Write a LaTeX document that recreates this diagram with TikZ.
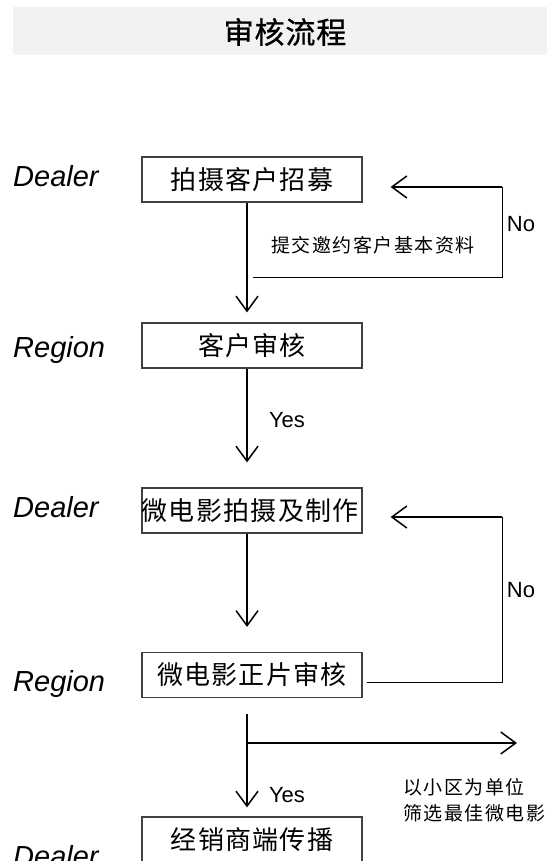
\documentclass[tikz,border=0pt]{standalone}
\usepackage{fontspec}
\setmainfont{Liberation Sans}
\newfontfamily\cjkbox[LetterSpace=5]{Noto Sans CJK SC}
\newfontfamily\cjksmall[LetterSpace=8]{Noto Sans CJK SC}
\newfontfamily\cjktitle[LetterSpace=3,FakeBold=0.8]{Noto Sans CJK SC}
\usetikzlibrary{arrows.meta}
\begin{document}
\begin{tikzpicture}[x=1pt,y=-1pt,
 box/.style={draw=black!75, line width=1.2pt, minimum width=220pt, minimum height=45pt, inner sep=0pt, font=\cjkbox\fontsize{26}{30}\selectfont},
 role/.style={font=\itshape\fontsize{29}{34}\selectfont, anchor=base west, inner sep=0pt},
 yn/.style={font=\fontsize{22}{26}\selectfont, inner sep=0pt},
 arr/.style={line width=1.5pt, -{Straight Barb[length=15pt,width=22pt,line width=1.5pt]}},
 fbline/.style={line width=1pt},
 note/.style={font=\cjksmall\fontsize{19}{26}\selectfont, inner sep=0pt}
]
\useasboundingbox (0,0) rectangle (547,861);
\clip (0,0) rectangle (547,861);
% title
\fill[gray!10] (13,7) rectangle (547,55);
\node[font=\cjktitle\fontsize{30}{34}\selectfont, inner sep=0pt] (title) at (285,32) {审核流程};
% role labels
\node[role] (r1) at (13,186) {Dealer};
\node[role] (r2) at (13,357) {Region};
\node[role] (r3) at (13,517) {Dealer};
\node[role] (r4) at (13,691) {Region};
\node[role] (r5) at (13,866) {Dealer};
% boxes
\node[box] (b1) at (252,179.5) {拍摄客户招募};
\node[box] (b2) at (252,345.5) {客户审核};
\node[box] (b3) at (252,510.5) {};
\begin{scope}
\clip (b3.south west) rectangle (b3.north east);
\node[font=\cjkbox\fontsize{26}{30}\selectfont, inner sep=0pt, anchor=west] (t3) at (b3.west) {微电影拍摄及制作};
\end{scope}
\node[box] (b4) at (252,675) {微电影正片审核};
\node[box] (b5) at (252,839.5) {经销商端传播};
% main arrows
\draw[arr, shorten >=10pt] ([xshift=-5pt]b1.south) -- ([xshift=-5pt]b2.north);
\draw[arr, shorten >=25pt] ([xshift=-5pt]b2.south) -- ([xshift=-5pt]b3.north);
\draw[arr, shorten >=25pt] ([xshift=-5pt]b3.south) -- ([xshift=-5pt]b4.north);
\draw[arr, shorten <=16pt, shorten >=9pt] ([xshift=-5pt]b4.south) -- ([xshift=-5pt]b5.north);
% branch
\coordinate (br) at (247,743);
\coordinate (brt) at (517,743);
\draw[arr] (br) -- (brt);
% feedback 1
\coordinate (f1a) at (253,277);
\coordinate (f1b) at (502,187);
\draw[fbline] (f1a) -| (f1b);
\draw[arr, shorten >=28pt] (f1b) -- (f1b -| b1.east);
% feedback 2
\coordinate (f2a) at (367,682);
\coordinate (f2b) at (502,517);
\draw[fbline] (f2a) -| (f2b);
\draw[arr, shorten >=28pt] (f2b) -- (f2b -| b3.east);
% labels
\node[note] (n1) at (373,245) {提交邀约客户基本资料};
\node[note, anchor=west, align=left] (n2) at (403,800) {以小区为单位\\筛选最佳微电影};
\node[yn] (y1) at (287,420) {Yes};
\node[yn] (y2) at (287,795) {Yes};
\node[yn] (no1) at (521,224) {No};
\node[yn] (no2) at (521,590) {No};
\end{tikzpicture}
\end{document}
